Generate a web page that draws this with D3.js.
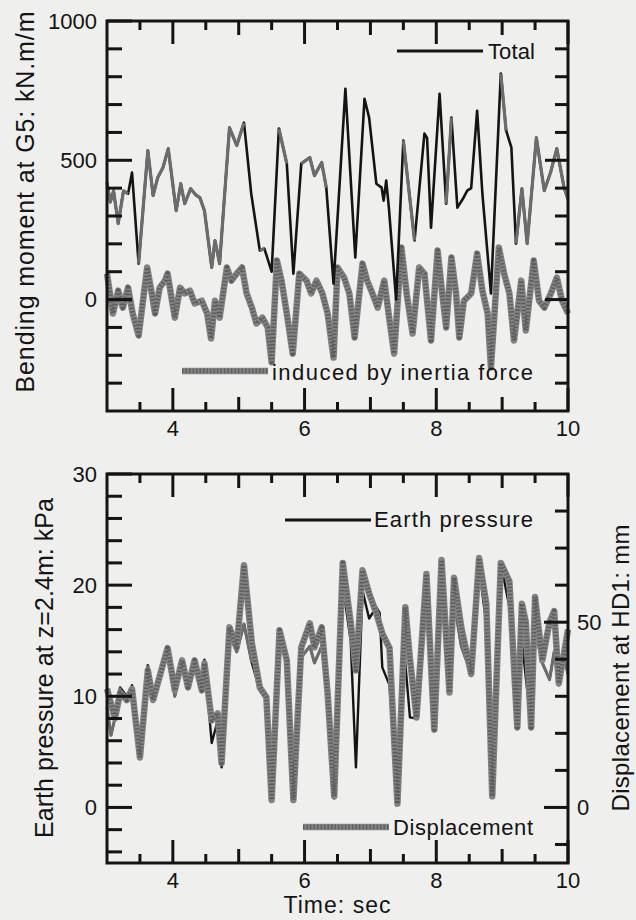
<!DOCTYPE html>
<html>
<head>
<meta charset="utf-8">
<script src="https://cdn.jsdelivr.net/npm/d3@7"></script>
<style>
  body { margin: 0; background: #efefed; }
  svg { display: block; font-family: "Liberation Sans", Arial, sans-serif; }
</style>
</head>
<body>
<svg id="chart"></svg>
<script>
// ---- top panel: bending moment at G5 (kN.m/m) ----
const totalTime = [
  3.0, 3.05, 3.1, 3.17, 3.25, 3.32, 3.38, 3.48, 3.62, 3.7,
  3.77, 3.85, 3.93, 4.05, 4.12, 4.18, 4.27, 4.35, 4.41, 4.48,
  4.59, 4.64, 4.71, 4.86, 4.97, 5.08, 5.19, 5.32, 5.39, 5.5,
  5.61, 5.73, 5.83, 5.95, 6.08, 6.15, 6.26, 6.33, 6.44, 6.62,
  6.77, 6.91, 6.98, 7.09, 7.17, 7.2, 7.24, 7.28, 7.39, 7.5,
  7.67, 7.82, 7.86, 7.92, 8.05, 8.15, 8.23, 8.32, 8.4, 8.47,
  8.53, 8.62, 8.7, 8.83, 8.98, 9.06, 9.14, 9.21, 9.3, 9.38,
  9.52, 9.64, 9.74, 9.83, 9.94, 10.0
];
const totalValue = [
  420, 350, 390, 273, 390, 380, 456, 129, 535, 373,
  438, 474, 542, 319, 416, 344, 398, 375, 366, 319,
  115, 212, 129, 617, 553, 635, 380, 176, 183, 100,
  614, 488, 93, 488, 510, 445, 492, 402, 57, 757,
  151, 721, 653, 416, 402, 355, 427, 330, 0, 571,
  212, 596, 580, 258, 739, 344, 653, 330, 360, 391,
  400, 678, 380, 22, 811, 607, 546, 201, 398, 201,
  581, 391, 460, 542, 402, 360
];
// stretches where the total trace shows up grey in the scan
const totalGreyWindows = [
  [3.0, 3.32], [3.48, 4.48], [4.59, 4.71], [4.86, 5.08], [5.32, 5.44],
  [5.58, 5.73], [5.92, 6.35], [6.7, 6.8], [7.45, 7.7], [7.88, 7.95],
  [8.12, 8.3], [8.9, 9.06], [9.16, 10.0]
];

const inertiaTime = [
  3.0, 3.09, 3.17, 3.24, 3.32, 3.39, 3.48, 3.61, 3.68, 3.73,
  3.8, 3.88, 3.92, 4.03, 4.11, 4.18, 4.26, 4.33, 4.44, 4.52,
  4.58, 4.64, 4.71, 4.82, 4.89, 4.97, 5.05, 5.12, 5.2, 5.27,
  5.36, 5.44, 5.5, 5.58, 5.65, 5.73, 5.82, 5.92, 6.03, 6.1,
  6.18, 6.27, 6.35, 6.44, 6.5, 6.6, 6.68, 6.76, 6.88, 6.95,
  7.03, 7.11, 7.21, 7.29, 7.36, 7.47, 7.55, 7.64, 7.74, 7.82,
  7.92, 8.02, 8.09, 8.15, 8.23, 8.3, 8.35, 8.42, 8.53, 8.62,
  8.7, 8.78, 8.83, 8.95, 9.03, 9.11, 9.18, 9.29, 9.36, 9.48,
  9.56, 9.64, 9.74, 9.83, 9.91, 10.0
];
const inertiaValue = [
  93, -50, 32, -29, 43, -50, -129, 115, 22, -50,
  43, 68, 93, -65, 43, 22, 32, -14, -4, -50,
  -140, -4, -65, 115, 68, 93, 115, 22, -29, -86,
  -65, -100, -225, 140, 68, -50, -194, 93, 68, 22,
  68, 22, -50, -208, 115, 79, 22, -136, 129, 68,
  22, -29, 68, -75, -194, 187, 22, -122, 115, 93,
  -147, 176, 22, -100, 151, 22, -136, -4, 22, 165,
  32, -50, -244, 187, 93, 22, -147, 68, -111, 140,
  -4, -29, 22, 79, -4, -50
];

// ---- bottom panel: earth pressure (kPa) and displacement (mm) ----
const pressureTime = [
  3.0, 3.06, 3.12, 3.2, 3.3, 3.38, 3.5, 3.62, 3.7, 3.77,
  3.92, 4.03, 4.14, 4.23, 4.33, 4.44, 4.48, 4.59, 4.68, 4.74,
  4.86, 4.97, 5.08, 5.2, 5.32, 5.42, 5.5, 5.62, 5.73, 5.83,
  5.95, 6.08, 6.15, 6.26, 6.35, 6.45, 6.58, 6.7, 6.78, 6.88,
  6.98, 7.09, 7.14, 7.18, 7.29, 7.41, 7.5, 7.6, 7.7, 7.85,
  7.97, 8.08, 8.2, 8.27, 8.38, 8.53, 8.65, 8.76, 8.85, 8.98,
  9.11, 9.23, 9.3, 9.44, 9.5, 9.61, 9.72, 9.79, 9.86, 9.94,
  10.0
];
const pressureValue = [
  9.0, 6.5, 8.0, 10.8, 10.0, 11.0, 4.8, 12.8, 9.8, 11.2,
  14.2, 10.0, 13.0, 11.0, 12.8, 11.2, 13.3, 5.8, 7.8, 3.6,
  15.5, 14.0, 16.5, 13.0, 10.5, 10.0, 0.5, 15.8, 12.5, 0.5,
  13.5, 14.5, 13.0, 14.5, 10.0, 0.8, 20.0, 15.0, 3.6, 19.5,
  17.0, 18.0, 17.5, 12.6, 11.0, 0.3, 15.0, 8.1, 8.0, 18.5,
  6.9, 21.0, 10.3, 18.5, 14.5, 12.0, 21.5, 16.5, 0.9, 22.0,
  18.0, 7.2, 15.0, 7.2, 16.0, 13.0, 11.5, 14.0, 11.0, 13.5,
  12.0
];
const pressureGreyWindows = [
  [3.0, 3.2], [3.6, 4.45], [4.86, 5.2], [5.9, 6.4], [8.2, 8.55], [9.5, 10.0]
];

const dispTime = [
  3.0, 3.12, 3.2, 3.3, 3.38, 3.5, 3.62, 3.7, 3.77, 3.92,
  4.03, 4.14, 4.23, 4.33, 4.44, 4.48, 4.59, 4.68, 4.74, 4.86,
  4.97, 5.08, 5.2, 5.32, 5.42, 5.5, 5.62, 5.73, 5.83, 5.95,
  6.08, 6.15, 6.26, 6.35, 6.45, 6.58, 6.7, 6.78, 6.88, 6.98,
  7.09, 7.18, 7.29, 7.41, 7.53, 7.6, 7.7, 7.85, 7.97, 8.08,
  8.2, 8.27, 8.38, 8.53, 8.65, 8.76, 8.85, 8.98, 9.11, 9.23,
  9.3, 9.36, 9.44, 9.5, 9.61, 9.72, 9.79, 9.86, 9.94, 10.0
];
const dispValue = [
  32, 24, 31, 29, 32, 13.5, 37, 29, 33.5, 43,
  31.6, 39.7, 32.4, 39.7, 31.6, 38.9, 23.5, 25.4, 12, 48.6,
  43.2, 65.4, 44.3, 32.4, 29.7, 2, 47.8, 39.7, 2, 43.2,
  49.7, 43.2, 48.6, 30.8, 3, 66, 50, 37, 64, 57.8,
  52.4, 47, 43, 1, 54, 40, 24.3, 63, 21, 66.8,
  31, 62, 48.6, 36, 67.3, 55, 3, 66, 61, 21.6,
  55, 50, 21.6, 56.8, 39.7, 50, 53, 33.5, 41.6, 48
];

// ---- ticks ----
const xMajorTicks = [4, 6, 8, 10];
const xMidTicks = [5, 7, 9];
const xMinorTicks = [3.5, 4.5, 5.5, 6.5, 7.5, 8.5, 9.5];
const momentMajorTicks = [0, 500, 1000];
const momentMinorTicks = [-300, -200, -100, 100, 200, 300, 400, 600, 700, 800, 900];
const pressureMajorTicks = [0, 10, 20, 30];
const pressureMinorTicks = [-4, -2, 2, 4, 6, 8, 12, 14, 16, 18, 22, 24, 26, 28];
const dispMajorTicks = [0, 50];
const dispMinorTicks = [-10, 10, 20, 30, 40, 60, 70, 80];

const width = 636;
const height = 920;
const left = 107;
const right = 568;
const topPanel = { y0: 21, y1: 411 };
const bottomPanel = { y0: 474, y1: 863 };
const ink = "#141414";
const grey = "#6c6c6c";

const svg = d3.select("#chart").attr("width", width).attr("height", height);
svg.append("rect").attr("width", width).attr("height", height).attr("fill", "#efefed");

const x = d3.scaleLinear().domain([3, 10]).range([left, right]);
const yMoment = d3.scaleLinear().domain([-400, 1000]).range([topPanel.y1, topPanel.y0]);
const yPressure = d3.scaleLinear().domain([-5, 30]).range([bottomPanel.y1, bottomPanel.y0]);
const yDisp = d3.scaleLinear().domain([-15, 90]).range([bottomPanel.y1, bottomPanel.y0]);

const zip = (ts, vs) => ts.map((t, i) => ({ t, v: vs[i] }));
const inWindows = (wins) => (d) => wins.some(([a, b]) => d.t >= a - 1e-9 && d.t <= b + 1e-9);

const total = zip(totalTime, totalValue);
const inertia = zip(inertiaTime, inertiaValue);
const pressure = zip(pressureTime, pressureValue);
const disp = zip(dispTime, dispValue);

// inward tick marks on the top and bottom edge of a panel
function xTicks(panel, values, len) {
  const g = svg.append("g").attr("fill", ink);
  g.selectAll("rect.b").data(values).join("rect").attr("class", "b")
    .attr("x", (d) => x(d) - 1.5).attr("width", 3)
    .attr("y", panel.y1 - len).attr("height", len);
  g.selectAll("rect.t").data(values).join("rect").attr("class", "t")
    .attr("x", (d) => x(d) - 1.5).attr("width", 3)
    .attr("y", panel.y0).attr("height", len);
}

// inward tick marks on one y edge; side = -1 for left, 1 for right
function yTicks(scale, values, len, xEdge, side) {
  svg.append("g").attr("fill", ink)
    .selectAll("rect").data(values).join("rect")
    .attr("x", side < 0 ? xEdge : xEdge - len).attr("width", len)
    .attr("y", (d) => scale(d) - 1.5).attr("height", 3);
}

function xLabels(panel) {
  svg.append("g").attr("font-size", 22).attr("fill", ink).attr("text-anchor", "middle")
    .selectAll("text").data(xMajorTicks).join("text")
    .attr("x", (d) => x(d)).attr("y", panel.y1 + 25)
    .text((d) => d);
}

function yLabels(scale, values, xPos, anchor) {
  svg.append("g").attr("font-size", 22).attr("fill", ink).attr("text-anchor", anchor)
    .selectAll("text").data(values).join("text")
    .attr("x", xPos).attr("y", (d) => scale(d)).attr("dy", "0.35em")
    .text((d) => d);
}

function frame(panel) {
  svg.append("rect")
    .attr("x", left).attr("y", panel.y0)
    .attr("width", right - left).attr("height", panel.y1 - panel.y0)
    .attr("fill", "none").attr("stroke", ink).attr("stroke-width", 3);
}

// thick grey band with darker beads, like the scanned marker line
function beaded(d, g) {
  g.append("path").attr("d", d).attr("fill", "none")
    .attr("stroke", "#828282").attr("stroke-width", 6.5).attr("stroke-linejoin", "round");
  g.append("path").attr("d", d).attr("fill", "none")
    .attr("stroke", "#5a5a5a").attr("stroke-width", 4.5)
    .attr("stroke-dasharray", "1.3 2.2").attr("stroke-linejoin", "round");
}

function legendText(txt, xPos, yPos, len) {
  svg.append("text")
    .attr("x", xPos).attr("y", yPos)
    .attr("font-size", 22).attr("fill", ink)
    .attr("textLength", len).attr("lengthAdjust", "spacing")
    .text(txt);
}

function title(txt, xPos, yPos, rot, len, size) {
  svg.append("text")
    .attr("transform", `translate(${xPos},${yPos}) rotate(${rot})`)
    .attr("text-anchor", "middle")
    .attr("font-size", size).attr("fill", ink)
    .attr("textLength", len).attr("lengthAdjust", "spacing")
    .text(txt);
}

// ---------- top panel ----------
const gTop = svg.append("g");
beaded(d3.line().x((d) => x(d.t)).y((d) => yMoment(d.v))(inertia), gTop);
gTop.append("path")
  .attr("d", d3.line().x((d) => x(d.t)).y((d) => yMoment(d.v))(total))
  .attr("fill", "none").attr("stroke", ink).attr("stroke-width", 2.6)
  .attr("stroke-linejoin", "round");
gTop.append("path")
  .attr("d", d3.line().x((d) => x(d.t)).y((d) => yMoment(d.v))
    .defined(inWindows(totalGreyWindows))(total))
  .attr("fill", "none").attr("stroke", grey).attr("stroke-width", 3.2)
  .attr("stroke-linejoin", "round");

// ---------- bottom panel ----------
const gBot = svg.append("g");
gBot.append("path")
  .attr("d", d3.line().x((d) => x(d.t)).y((d) => yPressure(d.v))(pressure))
  .attr("fill", "none").attr("stroke", ink).attr("stroke-width", 2.4)
  .attr("stroke-linejoin", "round");
gBot.append("path")
  .attr("d", d3.line().x((d) => x(d.t)).y((d) => yPressure(d.v))
    .defined(inWindows(pressureGreyWindows))(pressure))
  .attr("fill", "none").attr("stroke", grey).attr("stroke-width", 3)
  .attr("stroke-linejoin", "round");
beaded(d3.line().x((d) => x(d.t)).y((d) => yDisp(d.v))(disp), gBot);

// ---------- frames, ticks, labels ----------
frame(topPanel);
xTicks(topPanel, xMajorTicks, 23);
xTicks(topPanel, xMidTicks, 14);
xTicks(topPanel, xMinorTicks, 9);
xLabels(topPanel);
yTicks(yMoment, momentMajorTicks, 25, left, -1);
yTicks(yMoment, momentMinorTicks, 15, left, -1);
yTicks(yMoment, [0, 500], 23, right, 1);
yTicks(yMoment, momentMinorTicks, 13, right, 1);
yLabels(yMoment, momentMajorTicks, left - 10, "end");

frame(bottomPanel);
xTicks(bottomPanel, xMajorTicks, 23);
xTicks(bottomPanel, xMidTicks, 14);
xTicks(bottomPanel, xMinorTicks, 9);
xLabels(bottomPanel);
yTicks(yPressure, pressureMajorTicks, 25, left, -1);
yTicks(yPressure, pressureMinorTicks, 15, left, -1);
yLabels(yPressure, pressureMajorTicks, left - 10, "end");
yTicks(yDisp, dispMajorTicks, 24, right, 1);
yTicks(yDisp, dispMinorTicks, 13, right, 1);
yLabels(yDisp, dispMajorTicks, right + 9, "start");

// ---------- legends and titles ----------
svg.append("line").attr("x1", 397).attr("x2", 483).attr("y1", 51).attr("y2", 51)
  .attr("stroke", ink).attr("stroke-width", 3);
legendText("Total", 488, 59, 47);
beaded("M182,371H268", svg.append("g"));
legendText("induced by inertia force", 272, 380, 261);

svg.append("line").attr("x1", 285).attr("x2", 371).attr("y1", 520).attr("y2", 520)
  .attr("stroke", ink).attr("stroke-width", 3);
legendText("Earth pressure", 374, 527, 159);
beaded("M303,827H389", svg.append("g"));
legendText("Displacement", 393, 835, 140);

title("Bending moment at G5: kN.m/m", 34, 202, -90, 381, 25);
title("Earth pressure at z=2.4m: kPa", 53, 668, -90, 340, 25);
title("Displacement at HD1: mm", 629, 668, -90, 287, 24);
title("Time: sec", 337, 913, 0, 107, 23);
</script>
</body>
</html>
